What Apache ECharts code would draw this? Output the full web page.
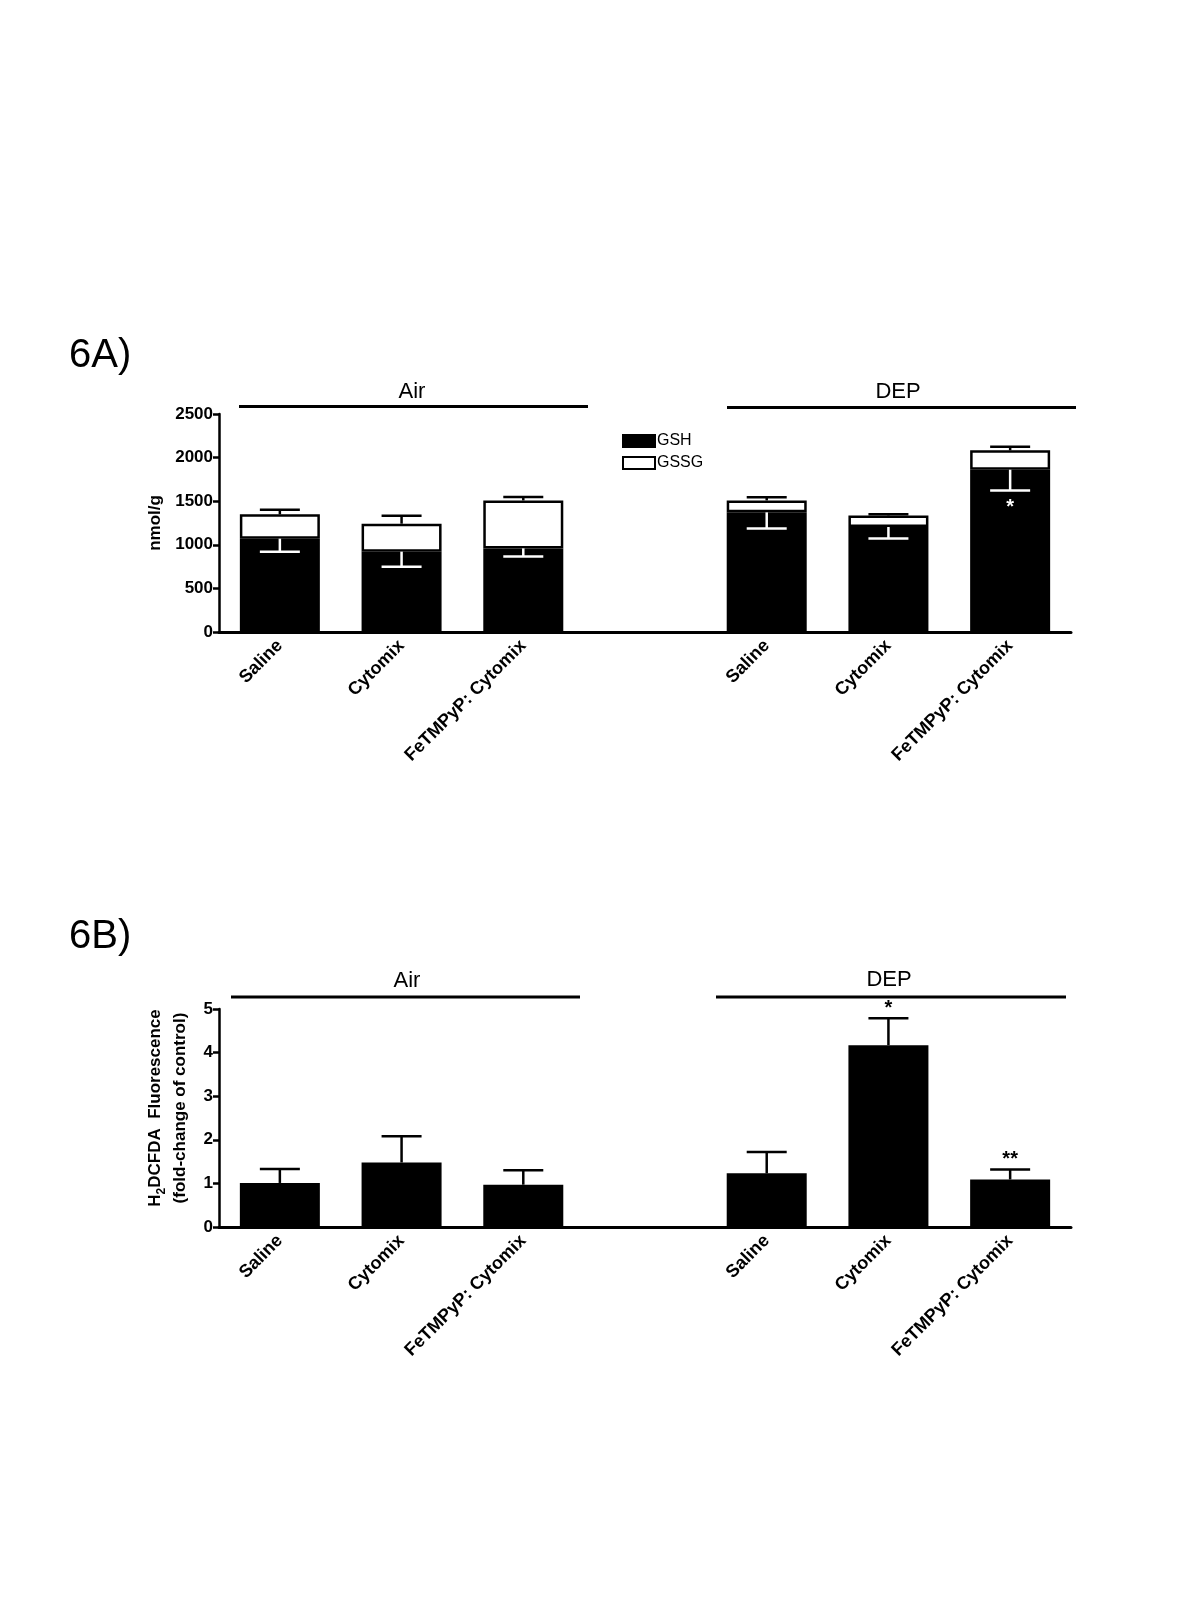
<!DOCTYPE html>
<html lang="en">
<head>
    <meta charset="UTF-8">
    <title>Figure 6 - GSH/GSSG and H2DCFDA</title>
    <script src="https://cdn.jsdelivr.net/npm/echarts@6/dist/echarts.min.js"></script>
    <style>
        html, body { margin: 0; padding: 0; background: #fff; }
        #chart { width: 1200px; height: 1600px; }
    </style>
</head>
<body>
    <div id="chart"></div>
    <script>
        // categories (empty slot separates Air and DEP groups)
        const categories = ['Saline', 'Cytomix', 'FeTMPyP: Cytomix', '', 'Saline', 'Cytomix', 'FeTMPyP: Cytomix'];

        // 6A: glutathione (nmol/g)
        const gsh      = [1070, 921, 959, '-', 1372, 1204, 1861];
        const gshSem   = [150, 172, 92, '-', 184, 131, 237];
        const gssg     = [279, 321, 550, '-', 137, 133, 222];
        const totalSem = [54, 92, 39, '-', 35, 12, 42];
        const sigA     = ['', '', '', '', '', '', '*'];
        const ticksA   = [0, 500, 1000, 1500, 2000, 2500];

        // 6B: H2DCFDA fluorescence (fold-change of control)
        const fluo     = [1.01, 1.48, 0.97, '-', 1.23, 4.17, 1.09];
        const fluoSem  = [0.32, 0.60, 0.33, '-', 0.49, 0.62, 0.23];
        const sigB     = ['', '', '', '', '', '*', '**'];
        const ticksB   = [0, 1, 2, 3, 4, 5];

        const FONT = '"Liberation Sans", Arial, sans-serif';

        // error bar data: [index, from, to, significance]
        function errData(base, sem, dir, sig) {
            const out = [];
            base.forEach((v, i) => {
                if (v === '-') return;
                out.push([i, v, v + dir * sem[i], sig[i]]);
            });
            return out;
        }
        const totals = gsh.map((v, i) => v === '-' ? '-' : v + gssg[i]);

        function errRender(color, sigOffset) {
            return function (params, api) {
                const i = api.value(0);
                const p0 = api.coord([i, api.value(1)]);
                const p1 = api.coord([i, api.value(2)]);
                const sig = api.value(3);
                const half = 20;
                const children = [
                    { type: 'line', shape: { x1: p0[0], y1: p0[1], x2: p1[0], y2: p1[1] }, style: { stroke: color, lineWidth: 2.5 } },
                    { type: 'line', shape: { x1: p1[0] - half, y1: p1[1], x2: p1[0] + half, y2: p1[1] }, style: { stroke: color, lineWidth: 2.5 } }
                ];
                if (sig) {
                    children.push({
                        type: 'text',
                        style: { text: sig, x: p1[0], y: p1[1] + sigOffset, align: 'center', verticalAlign: 'middle',
                                 fill: color, font: 'bold 20px ' + FONT }
                    });
                }
                return { type: 'group', children: children };
            };
        }

        const tickLabel = { fontFamily: FONT, fontWeight: 'bold', fontSize: 17, color: '#000', margin: 6,
                            formatter: v => String(v) };
        const xLabel = { fontFamily: FONT, fontWeight: 'bold', fontSize: 18, color: '#000', rotate: 45, interval: 0, margin: 11 };

        const chart = echarts.init(document.getElementById('chart'), null, { renderer: 'canvas' });
        const option = {
            animation: false,
            backgroundColor: '#fff',
            grid: [
                { left: 219, top: 414, width: 852, height: 218 },
                { left: 219, top: 1009, width: 852, height: 218 }
            ],
            legend: {
                data: ['GSH', 'GSSG'],
                orient: 'vertical',
                left: 622, top: 433, padding: 0,
                icon: 'rect',
                itemWidth: 32, itemHeight: 12, itemGap: 6,
                textStyle: { fontFamily: FONT, fontSize: 16, color: '#000', padding: [0, 0, 0, -3] }
            },
            xAxis: [
                { gridIndex: 0, type: 'category', data: categories,
                  axisLine: { lineStyle: { color: '#000', width: 3 } }, axisTick: { show: false }, axisLabel: xLabel },
                { gridIndex: 1, type: 'category', data: categories,
                  axisLine: { lineStyle: { color: '#000', width: 3 } }, axisTick: { show: false }, axisLabel: xLabel }
            ],
            yAxis: [
                { gridIndex: 0, type: 'value', min: ticksA[0], max: ticksA[ticksA.length - 1], interval: ticksA[1] - ticksA[0],
                  name: 'nmol/g', nameLocation: 'middle', nameGap: 53,
                  nameTextStyle: { fontFamily: FONT, fontWeight: 'bold', fontSize: 17, color: '#000' },
                  axisLine: { show: true, lineStyle: { color: '#000', width: 2.5 } },
                  axisTick: { show: true, length: 6, lineStyle: { color: '#000', width: 2.5 } },
                  splitLine: { show: false }, axisLabel: tickLabel },
                { gridIndex: 1, type: 'value', min: ticksB[0], max: ticksB[ticksB.length - 1], interval: ticksB[1] - ticksB[0],
                  name: '{a|H}{s|2}{a|DCFDA  Fluorescence}\n{a|(fold-change of control)}',
                  nameLocation: 'middle', nameGap: 24,
                  nameTextStyle: {
                      fontFamily: FONT, fontWeight: 'bold', fontSize: 17, color: '#000', lineHeight: 25,
                      padding: [0, 0, 0, 20],
                      rich: {
                          a: { fontFamily: FONT, fontWeight: 'bold', fontSize: 17, color: '#000', lineHeight: 25 },
                          s: { fontFamily: FONT, fontWeight: 'bold', fontSize: 12, color: '#000', lineHeight: 14, verticalAlign: 'bottom' }
                      }
                  },
                  axisLine: { show: true, lineStyle: { color: '#000', width: 2.5 } },
                  axisTick: { show: true, length: 6, lineStyle: { color: '#000', width: 2.5 } },
                  splitLine: { show: false }, axisLabel: tickLabel }
            ],
            series: [
                { name: 'GSH', type: 'bar', xAxisIndex: 0, yAxisIndex: 0, stack: 'glu', data: gsh, barWidth: 80,
                  itemStyle: { color: '#000', borderColor: '#000', borderWidth: 2.5 } },
                { name: 'GSSG', type: 'bar', xAxisIndex: 0, yAxisIndex: 0, stack: 'glu', data: gssg, barWidth: 80,
                  itemStyle: { color: '#fff', borderColor: '#000', borderWidth: 2.5 } },
                { name: 'total err', type: 'custom', xAxisIndex: 0, yAxisIndex: 0, z: 5,
                  renderItem: errRender('#000', -14), data: errData(totals, totalSem, 1, sigA.map(() => '')) },
                { name: 'gsh err', type: 'custom', xAxisIndex: 0, yAxisIndex: 0, z: 5,
                  renderItem: errRender('#fff', 17), data: errData(gsh, gshSem, -1, sigA) },
                { name: 'fluo', type: 'bar', xAxisIndex: 1, yAxisIndex: 1, data: fluo, barWidth: 80,
                  itemStyle: { color: '#000', borderColor: '#000', borderWidth: 2.5 } },
                { name: 'fluo err', type: 'custom', xAxisIndex: 1, yAxisIndex: 1, z: 5,
                  renderItem: errRender('#000', -10), data: errData(fluo, fluoSem, 1, sigB) }
            ],
            graphic: [
                { type: 'text', left: 69, top: 336, style: { text: '6A)', font: '40px ' + FONT, fill: '#000' } },
                { type: 'text', left: 69, top: 917, style: { text: '6B)', font: '40px ' + FONT, fill: '#000' } },
                // group brackets
                { type: 'line', shape: { x1: 239, y1: 406.5, x2: 588, y2: 406.5 }, style: { stroke: '#000', lineWidth: 3 } },
                { type: 'line', shape: { x1: 727, y1: 407.5, x2: 1076, y2: 407.5 }, style: { stroke: '#000', lineWidth: 3 } },
                { type: 'text', x: 412, y: 392, style: { text: 'Air', font: '22px ' + FONT, fill: '#000', align: 'center', verticalAlign: 'middle' } },
                { type: 'text', x: 898, y: 392, style: { text: 'DEP', font: '22px ' + FONT, fill: '#000', align: 'center', verticalAlign: 'middle' } },
                { type: 'line', shape: { x1: 231, y1: 997, x2: 580, y2: 997 }, style: { stroke: '#000', lineWidth: 3 } },
                { type: 'line', shape: { x1: 716, y1: 997, x2: 1066, y2: 997 }, style: { stroke: '#000', lineWidth: 3 } },
                { type: 'text', x: 407, y: 981, style: { text: 'Air', font: '22px ' + FONT, fill: '#000', align: 'center', verticalAlign: 'middle' } },
                { type: 'text', x: 889, y: 980, style: { text: 'DEP', font: '22px ' + FONT, fill: '#000', align: 'center', verticalAlign: 'middle' } }
            ]
        };
        chart.setOption(option);
    </script>
</body>
</html>
